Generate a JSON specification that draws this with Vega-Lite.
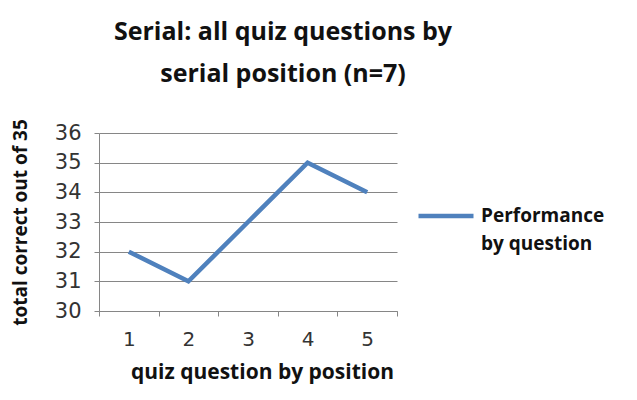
{
  "$schema": "https://vega.github.io/schema/vega-lite/v6.json",
  "autosize": "none",
  "width": 298,
  "height": 178,
  "padding": {"left": 99, "top": 133, "right": 240, "bottom": 89},
  "background": "white",
  "title": {
    "text": ["Serial: all quiz questions by", "serial position (n=7)"],
    "font": "Open Sans",
    "fontSize": 25,
    "fontWeight": "bold",
    "color": "#111111",
    "anchor": "middle",
    "dx": 35,
    "lineHeight": 42,
    "offset": 32
  },
  "data": {
    "values": [
      {"position": "1", "correct": 32, "series": "Performance by question"},
      {"position": "2", "correct": 31, "series": "Performance by question"},
      {"position": "3", "correct": 33, "series": "Performance by question"},
      {"position": "4", "correct": 35, "series": "Performance by question"},
      {"position": "5", "correct": 34, "series": "Performance by question"}
    ]
  },
  "mark": {"type": "line", "strokeWidth": 4.5, "strokeCap": "butt"},
  "encoding": {
    "x": {
      "field": "position",
      "type": "ordinal",
      "scale": {"paddingInner": 0, "paddingOuter": 0},
      "axis": {
        "title": "quiz question by position",
        "titleFont": "Open Sans",
        "titleFontSize": 21,
        "titleFontWeight": "bold",
        "titleColor": "#111111",
        "titlePadding": 12,
        "titleX": 163,
        "labelAngle": 0,
        "labelFont": "DejaVu Sans",
        "labelFontSize": 20,
        "labelColor": "#333333",
        "labelPadding": 13,
        "tickBand": "extent",
        "tickSize": 5,
        "tickColor": "#868686",
        "domainColor": "#868686",
        "grid": false
      }
    },
    "y": {
      "field": "correct",
      "type": "quantitative",
      "scale": {"domain": [30, 36], "nice": false, "zero": false},
      "axis": {
        "title": "total correct out of 35",
        "titleFont": "Open Sans",
        "titleFontSize": 19,
        "titleFontWeight": "bold",
        "titleColor": "#111111",
        "titlePadding": 24,
        "values": [30, 31, 32, 33, 34, 35, 36],
        "labelFont": "DejaVu Sans",
        "labelFontSize": 21,
        "labelColor": "#333333",
        "labelPadding": 13,
        "tickSize": 5,
        "tickColor": "#868686",
        "domainColor": "#868686",
        "grid": true,
        "gridColor": "#868686",
        "gridOpacity": 1
      }
    },
    "color": {
      "field": "series",
      "type": "nominal",
      "scale": {"range": ["#4F81BD"]},
      "legend": {
        "title": null,
        "orient": "none",
        "legendX": 317,
        "legendY": 53,
        "symbolType": "stroke",
        "symbolSize": 3025,
        "symbolStrokeWidth": 4.5,
        "labelExpr": "['Performance', 'by question']",
        "labelFont": "Open Sans",
        "labelFontSize": 19,
        "labelFontWeight": "bold",
        "labelColor": "#111111",
        "labelLimit": 200,
        "labelOffset": 5,
        "encode": {"labels": {"update": {"lineHeight": {"value": 28}}}}
      }
    }
  },
  "config": {
    "view": {"stroke": null}
  }
}
